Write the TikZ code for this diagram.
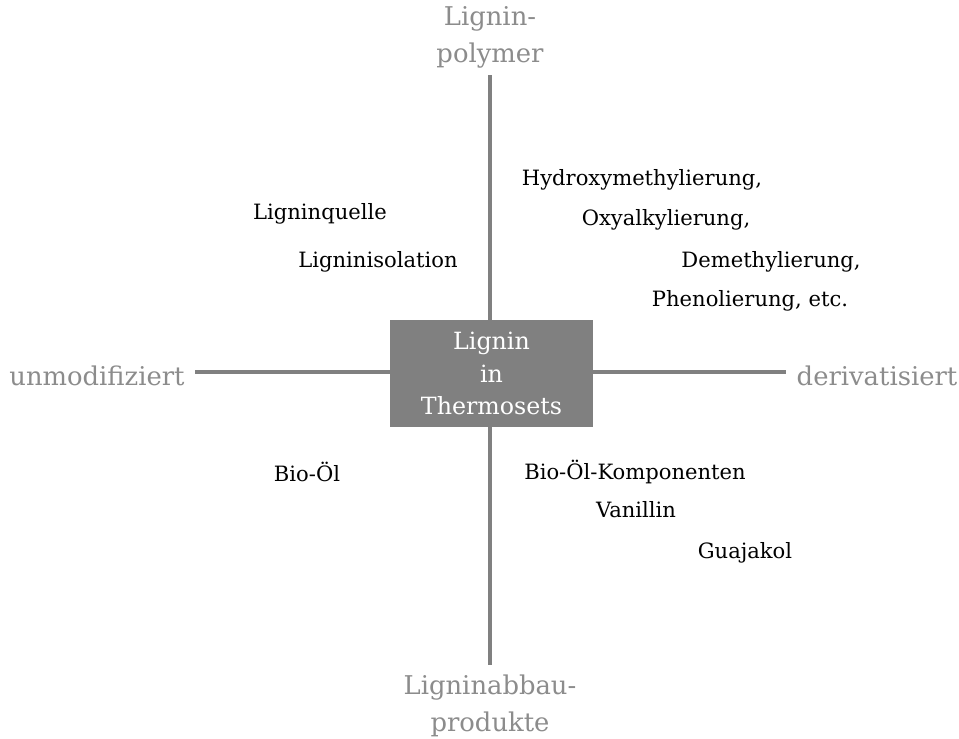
\documentclass[tikz,border=0pt]{standalone}
\usepackage{fontspec}
\setmainfont{DejaVu Serif}
\definecolor{axisgray}{HTML}{808080}
\definecolor{labelgray}{HTML}{8C8C8C}
\begin{document}
\begin{tikzpicture}[x=0.02cm, y=-0.02cm,
    axisline/.style={axisgray, line width=2.8pt},
    axislabel/.style={labelgray, font=\fontsize{14.7}{21}\selectfont, align=center},
    item/.style={black, font=\fontsize{12}{14}\selectfont, inner sep=0pt},
    centerbox/.style={fill=axisgray, text=white, minimum width=203*0.02cm, minimum height=107*0.02cm,
        font=\fontsize{13.5}{18.5}\selectfont, align=center, inner sep=0pt}]
    \useasboundingbox (0,0) rectangle (959,738);

    % Ends of the axes
    \coordinate (top) at (490,75);
    \coordinate (bottom) at (490,665);
    \coordinate (left) at (195,372);
    \coordinate (right) at (786,372);

    % Axes
    \draw[axisline] (top) -- (bottom);
    \draw[axisline] (left) -- (right);

    % Centre box
    \node[centerbox] (lignin) at (491.5,373.5) {Lignin\\in\\Thermosets};

    % Axis labels
    \node[axislabel] (polymer) at (490,37) {Lignin-\\polymer};
    \node[axislabel] (abbau) at (490,706) {Ligninabbau-\\produkte};
    \node[axislabel] (unmod) at (97,376) {unmodifiziert};
    \node[axislabel] (deriv) at (877,376) {derivatisiert};

    % Upper left quadrant
    \node[item] (quelle) at (320,214) {Ligninquelle};
    \node[item] (isolation) at (378,262) {Ligninisolation};

    % Upper right quadrant
    \node[item] (hydroxy) at (642,180) {Hydroxymethylierung,};
    \node[item] (oxyalk) at (666,220) {Oxyalkylierung,};
    \node[item] (demeth) at (771,262) {Demethylierung,};
    \node[item] (phenol) at (750,301) {Phenolierung, etc.};

    % Lower left quadrant
    \node[item] (biooel) at (307,472) {Bio-Öl};

    % Lower right quadrant
    \node[item] (komp) at (635,472) {Bio-Öl-Komponenten};
    \node[item] (vanillin) at (636,510) {Vanillin};
    \node[item] (guajakol) at (745,553) {Guajakol};
\end{tikzpicture}
\end{document}
